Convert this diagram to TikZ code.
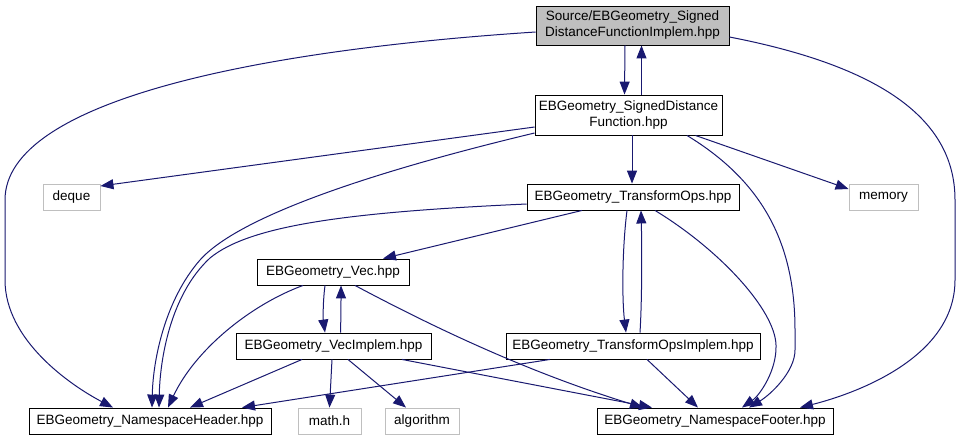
\documentclass[tikz,border=0pt]{standalone}
\usepackage{fontspec}
\setmainfont{Liberation Sans}
\usetikzlibrary{arrows.meta}
\definecolor{edgeblue}{HTML}{191970}
\definecolor{graybd}{HTML}{BFBFBF}
\begin{document}
\begin{tikzpicture}[x=1pt,y=-1pt,
  box/.style={draw=black, line width=0.9pt, fill=white, inner sep=0pt,
    font=\fontsize{13.5}{16}\selectfont, align=center, minimum height=26pt},
  gbox/.style={box, draw=graybd},
  edge/.style={draw=edgeblue, line width=1pt, -{Triangle[length=13pt,width=10pt]}}]
\useasboundingbox[fill=white] (0,0) rectangle (961,440);
\node[box, fill=graybd, minimum width=193pt, minimum height=39pt] (root) at (632.5,25.5) {Source/EBGeometry\_Signed\\DistanceFunctionImplem.hpp};
\node[box, minimum width=187pt, minimum height=40pt] (sdf) at (628.5,115) {EBGeometry\_SignedDistance\\Function.hpp};
\node[gbox, minimum width=57pt] (deque) at (71.5,197) {deque};
\node[gbox, minimum width=69pt] (memory) at (883.5,197) {memory};
\node[box, minimum width=212pt] (tops) at (633,197) {EBGeometry\_TransformOps.hpp};
\node[box, minimum width=152pt] (vec) at (333,272) {EBGeometry\_Vec.hpp};
\node[box, minimum width=195pt] (veci) at (333.5,346) {EBGeometry\_VecImplem.hpp};
\node[box, minimum width=254pt] (topsi) at (633,346) {EBGeometry\_TransformOpsImplem.hpp};
\node[box, minimum width=242pt] (hdr) at (150,421) {EBGeometry\_NamespaceHeader.hpp};
\node[gbox, minimum width=63pt] (math) at (329.5,421) {math.h};
\node[gbox, minimum width=74pt] (algo) at (422,421) {algorithm};
\node[box, minimum width=236pt] (ftr) at (715,421) {EBGeometry\_NamespaceFooter.hpp};

\draw[edge] ([xshift=-7.5]root.south) -- ([xshift=-4]sdf.north);
\draw[edge] ([xshift=13]sdf.north) -- ([xshift=9]root.south);
\draw[edge] ([yshift=-6.5]root.west) .. controls (260,50) and (5,100) .. (5,200) -- (5,280) .. controls (5,340) and (70,385) .. ([xshift=-37]hdr.north);
\draw[edge] ([yshift=-11.5]root.east) .. controls (900,70) and (955,130) .. (955,200) -- (955,280) .. controls (955,360) and (850,395) .. ([xshift=85]ftr.north);
\draw[edge] ([yshift=-12]sdf.west) -- ([yshift=11]deque.east);
\draw[edge] ([yshift=-18]sdf.west) .. controls (380,170) and (240,215) .. (200,260) .. controls (165,300) and (153,360) .. ([xshift=2]hdr.north);
\draw[edge] ([xshift=3.5]sdf.south) -- ([xshift=-1]tops.north);
\draw[edge] ([xshift=-27]sdf.south east) -- ([yshift=8]memory.west);
\draw[edge] ([xshift=58.5]sdf.south) .. controls (760,180) and (795,240) .. (795,330) -- (795,350) .. controls (795,372) and (770,395) .. ([xshift=34]ftr.north);
\draw[edge] ([yshift=-7]tops.west) .. controls (350,212) and (250,225) .. (210,258) .. controls (170,295) and (160,360) .. ([xshift=9]hdr.north);
\draw[edge] ([xshift=-51]tops.south) -- ([xshift=50]vec.north);
\draw[edge] ([xshift=-6]tops.south) .. controls (622,250) and (622,300) .. ([xshift=-7]topsi.north);
\draw[edge] ([xshift=7]topsi.north) .. controls (642,300) and (642,250) .. ([xshift=8]tops.south);
\draw[edge] ([xshift=22]tops.south) .. controls (720,250) and (775,310) .. (776,345) .. controls (777,370) and (760,395) .. ([xshift=27]ftr.north);
\draw[edge] ([xshift=-30]vec.south) .. controls (250,305) and (195,350) .. ([xshift=18]hdr.north);
\draw[edge] ([xshift=-8]vec.south) .. controls (323,300) and (323,318) .. ([xshift=-8.5]veci.north);
\draw[edge] ([xshift=7]veci.north) .. controls (341,315) and (341,300) .. ([xshift=8]vec.south);
\draw[edge] ([xshift=22]vec.south) .. controls (420,320) and (520,370) .. ([xshift=-72]ftr.north);
\draw[edge] ([xshift=-31.5]veci.south) -- ([xshift=40]hdr.north);
\draw[edge] ([xshift=-1.5]veci.south) -- (math.north);
\draw[edge] ([xshift=14.5]veci.south) -- ([xshift=-16]algo.north);
\draw[edge] ([xshift=68.5]veci.south) -- ([xshift=-63]ftr.north);
\draw[edge] ([xshift=-83]topsi.south) -- ([xshift=92]hdr.north);
\draw[edge] ([xshift=14]topsi.south) -- ([xshift=-17]ftr.north);
\end{tikzpicture}
\end{document}
